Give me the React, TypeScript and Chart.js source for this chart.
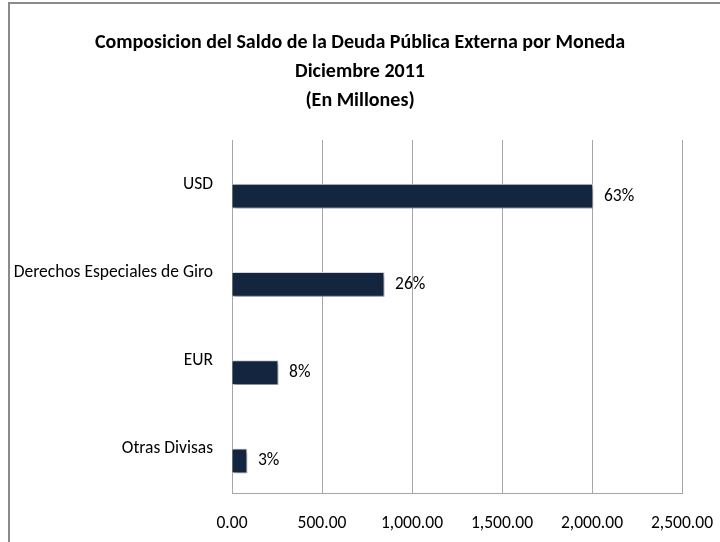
import React, { useEffect, useRef } from "react";
import { Chart, registerables } from "chart.js";

Chart.register(...registerables);

const categories = ["USD", "Derechos Especiales de Giro", "EUR", "Otras Divisas"];
const saldo = [2005, 845, 256, 83];
const shareLabels = ["63%", "26%", "8%", "3%"];
const emptySeries = [null, null, null, null];
const titleLines = [
  "Composicion del Saldo de la Deuda Pública Externa por Moneda",
  "Diciembre 2011",
  "(En Millones)",
];
const xMin = 0;
const xMax = 2500;
const xStep = 500;

const FONT = "Carlito, 'Liberation Sans', Arial, sans-serif";
const SMALL = 17.5;

export default function App() {
  const ref = useRef<HTMLCanvasElement | null>(null);

  useEffect(() => {
    if (!ref.current) return;

    const frame = {
      id: "frame",
      beforeDraw(chart: any) {
        const ctx = chart.ctx;
        ctx.save();
        ctx.fillStyle = "#ffffff";
        ctx.fillRect(0, 0, chart.width, chart.height);
        ctx.strokeStyle = "#8a8a8a";
        ctx.lineWidth = 2;
        ctx.strokeRect(9, 3, chart.width + 20, chart.height + 20);
        ctx.restore();
      },
    };

    const shadow = {
      id: "barShadow",
      beforeDatasetDraw(chart: any) {
        const ctx = chart.ctx;
        ctx.save();
        ctx.shadowColor = "rgba(0,0,0,0.38)";
        ctx.shadowOffsetX = 2;
        ctx.shadowOffsetY = 3;
        ctx.shadowBlur = 4;
      },
      afterDatasetDraw(chart: any) {
        chart.ctx.restore();
      },
    };

    const valueLabels = {
      id: "valueLabels",
      afterDatasetsDraw(chart: any) {
        const ctx = chart.ctx;
        const meta = chart.getDatasetMeta(1);
        ctx.save();
        ctx.fillStyle = "#000";
        ctx.font = `${SMALL}px ${FONT}`;
        ctx.textAlign = "left";
        ctx.textBaseline = "middle";
        meta.data.forEach((bar: any, i: number) => {
          ctx.fillText(shareLabels[i], bar.x + 11, bar.y);
        });
        ctx.restore();
      },
    };

    const chart = new Chart(ref.current, {
      type: "bar",
      data: {
        labels: categories,
        datasets: [
          {
            label: "",
            data: emptySeries as any,
            backgroundColor: "#14253f",
            barThickness: 24,
          },
          {
            label: "Saldo",
            data: saldo,
            backgroundColor: "#14253f",
            borderColor: "#d9d9d9",
            borderWidth: 1,
            barThickness: 24,
          },
        ],
      },
      options: {
        indexAxis: "y",
        animation: false,
        responsive: false,
        maintainAspectRatio: false,
        layout: { padding: { left: 0, right: 0, top: 0, bottom: 0 } },
        plugins: {
          legend: { display: false },
          tooltip: { enabled: false },
          title: {
            display: true,
            text: titleLines,
            color: "#000",
            font: { family: FONT, size: 20, weight: "bold", lineHeight: 29 / 20 },
            padding: { top: 28.5, bottom: 24.5 },
          },
        },
        scales: {
          x: {
            min: xMin,
            max: xMax,
            grid: { display: true, color: "#a6a6a6", drawTicks: false, lineWidth: 1 },
            border: { display: true, color: "#a6a6a6" },
            ticks: {
              stepSize: xStep,
              padding: 20,
              maxRotation: 0,
              color: "#000",
              font: { family: FONT, size: SMALL },
              callback: (v: any) =>
                Number(v).toLocaleString("en-US", {
                  minimumFractionDigits: 2,
                  maximumFractionDigits: 2,
                }),
            },
            afterFit(scale: any) {
              scale.height = 49;
              scale.paddingLeft = 0;
              scale.paddingRight = 0;
            },
          },
          y: {
            grid: { display: false, drawTicks: false },
            border: { display: true, color: "#a6a6a6" },
            ticks: {
              padding: 19,
              color: "#000",
              font: { family: FONT, size: SMALL },
            },
            afterFit(scale: any) {
              scale.width = 232;
            },
          },
          yRight: {
            type: "category",
            position: "right",
            display: true,
            grid: { display: false, drawTicks: false },
            border: { display: false },
            ticks: { display: false },
            afterFit(scale: any) {
              scale.width = 38;
            },
          },
        },
      },
      plugins: [frame, shadow, valueLabels],
    });

    return () => chart.destroy();
  }, []);

  return (
    <div style={{ position: "absolute", left: 0, top: 0, width: 720, height: 542 }}>
      <canvas ref={ref} width={720} height={542} />
    </div>
  );
}
